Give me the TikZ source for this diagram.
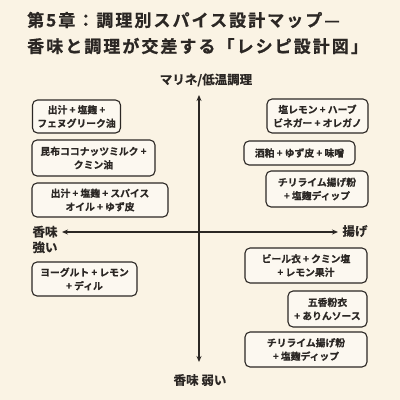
\documentclass[tikz,border=0pt]{standalone}
\usepackage{fontspec}
\newfontfamily\jp{Noto Sans CJK JP Bold}[FakeBold=0.6]
\newfontfamily\jptitle{Noto Sans CJK JP Bold}[LetterSpace=12,FakeBold=0.8]
\usetikzlibrary{arrows.meta}
\definecolor{bg}{HTML}{FAF3E4}
\definecolor{boxfill}{HTML}{FCF8F0}
\definecolor{ink}{HTML}{2B2724}
\tikzset{
  box/.style={draw=ink, fill=boxfill, line width=1.1pt, rounded corners=5pt, align=center,
    text=ink, font=\jp\fontsize{9.8}{13.5}\selectfont, inner sep=0pt},
  axis/.style={draw=ink, line width=1.1pt, -{Stealth[length=6pt,width=5pt]}},
  axlabel/.style={text=ink, font=\jp\fontsize{12.5}{15}\selectfont, inner sep=0pt},
  titlestyle/.style={text=ink, font=\jptitle\fontsize{17}{20}\selectfont, anchor=west, inner sep=0pt}
}
\begin{document}
\begin{tikzpicture}[x=1pt,y=-1pt]
\fill[bg] (0,0) rectangle (400,400);
\useasboundingbox (0,0) rectangle (400,400);
% title
\node[titlestyle] (t1) at (27,20) {第5章：調理別スパイス設計マップ—};
\node[titlestyle] (t2) at (27,46) {香味と調理が交差する「レシピ設計図」};
% axes
\coordinate (c) at (199,232);
\coordinate (top) at (199,95);
\coordinate (bot) at (199,362);
\coordinate (lft) at (62,232);
\coordinate (rgt) at (338,232);
\draw[axis] (c) -- (top);
\draw[axis] (c) -- (bot);
\draw[axis] (c) -- (lft);
\draw[axis] (c) -- (rgt);
\node[axlabel] (ltop) at (206,80) {マリネ/低温調理};
\node[axlabel] (lright) at (355,231) {揚げ};
\node[axlabel, align=center, font=\jp\fontsize{12.5}{15.5}\selectfont] (lleft) at (45,239.5) {香味\\強い};
\node[axlabel] (lbot) at (200,380) {香味 弱い};
% boxes left
\node[box, minimum width=88pt, minimum height=33pt] (l1) at (76.5,116.5) {出汁 + 塩麹 +\\フェヌグリーク油};
\node[box, minimum width=123pt, minimum height=36pt] (l2) at (93.5,158) {昆布ココナッツミルク +\\クミン油};
\node[box, minimum width=136pt, minimum height=34pt] (l3) at (100,200) {出汁 + 塩麹 + スパイス\\オイル + ゆず皮};
\node[box, minimum width=105pt, minimum height=34pt] (l4) at (84.5,279) {ヨーグルト + レモン\\+ ディル};
% boxes right
\node[box, minimum width=101pt, minimum height=34pt] (r1) at (317.5,116) {塩レモン + ハーブ\\ビネガー + オレガノ};
\node[box, minimum width=111pt, minimum height=24pt] (r2) at (299.5,153) {酒粕 + ゆず皮 + 味噌};
\node[box, minimum width=102pt, minimum height=36pt] (r3) at (317,189) {チリライム揚げ粉\\+ 塩麹ディップ};
\node[box, minimum width=122pt, minimum height=35pt] (r4) at (306,265.5) {ビール衣 + クミン塩\\+ レモン果汁};
\node[box, minimum width=79pt, minimum height=36pt] (r5) at (327.5,309) {五香粉衣\\+ ありんソース};
\node[box, minimum width=122pt, minimum height=35pt] (r6) at (306,349.5) {チリライム揚げ粉\\+ 塩麹ディップ};
\end{tikzpicture}
\end{document}
